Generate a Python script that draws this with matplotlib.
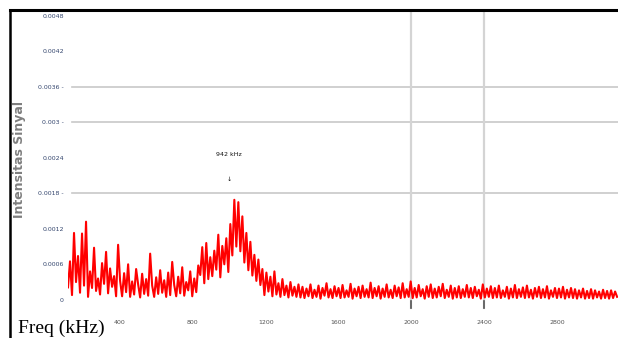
import numpy as np
import matplotlib.pyplot as plt
from matplotlib.lines import Line2D

# frequency grid of the spectrum (kHz)
freq_start = 115
freq_step = 11

# signal intensity, in units of 1e-4
intensity_e4 = [
    # 115 - 400 kHz
    2.1, 6.5, 0.8, 11.3, 3.0, 7.4, 1.2, 11.2, 2.4, 13.2, 0.5, 4.8, 2.0, 8.8, 1.5, 3.6, 0.9, 6.2, 2.7, 8.1,
    1.1, 5.3, 2.2, 4.0, 0.6, 9.3,
    # 400 - 840 kHz
    3.2, 0.6, 4.5, 1.3, 6.0, 0.5, 3.1, 0.9, 5.2, 2.6, 0.4, 4.4, 1.0, 3.5, 0.7, 7.8, 2.4, 0.5, 3.8, 1.0,
    5.0, 1.2, 3.3, 0.5, 4.6, 0.8, 6.4, 2.5, 0.6, 3.9, 1.1, 5.5, 0.7, 3.0, 1.6, 4.8, 0.6, 3.6, 1.3, 5.8,
    # hump around 1000 kHz
    4.2, 8.9, 2.8, 9.6, 3.5, 7.2, 4.0, 8.3, 5.1, 11.0, 3.8, 9.1, 6.0, 10.4, 4.7, 12.8, 7.5, 16.9, 9.0, 16.5,
    8.2, 14.1, 6.3, 11.3, 5.0, 9.8, 4.1, 7.6, 3.2, 6.8, 2.5,
    # decay
    5.2, 0.8, 4.6, 1.4, 3.9, 0.6, 4.8, 0.9, 2.8, 0.5, 3.5, 0.8, 2.4, 0.4, 3.0, 0.7, 2.2, 0.5, 2.6,
    # flat noise floor
    0.4, 2.2, 0.3, 1.9, 0.6, 2.6, 0.3, 1.7, 0.5, 2.4, 0.2, 2.0, 0.7, 2.8, 0.4, 1.8, 0.3, 2.3, 0.6, 2.0,
    0.3, 2.5, 0.4, 1.6, 0.5, 2.7, 0.2, 1.9, 0.6, 2.2, 0.3, 2.4, 0.5, 1.8, 0.4, 2.9, 0.3, 2.0, 0.6, 2.3,
    0.2, 1.9, 0.5, 2.6, 0.4, 1.7, 0.3, 2.4, 0.6, 2.1, 0.3, 2.8, 0.4, 1.8, 0.5, 3.1, 0.3, 2.0, 0.4, 2.5,
    0.6, 1.8, 0.2, 2.3, 0.5, 2.6, 0.3, 1.9, 0.4, 2.2, 0.6, 2.7, 0.3, 1.7, 0.5, 2.4, 0.2, 2.0, 0.4, 2.3,
    0.3, 1.8, 0.5, 2.5, 0.4, 2.0, 0.3, 2.2, 0.6, 1.7, 0.2, 2.6, 0.4, 1.9, 0.5, 2.3, 0.3, 2.0, 0.4, 2.4,
    0.3, 1.6, 0.5, 2.2, 0.2, 1.9, 0.4, 2.5, 0.3, 1.8, 0.5, 2.1, 0.3, 2.4, 0.4, 1.7, 0.2, 2.0, 0.5, 2.2,
    0.3, 1.8, 0.4, 2.3, 0.2, 1.6, 0.5, 2.0, 0.3, 1.9, 0.4, 2.2, 0.2, 1.7, 0.4, 2.0, 0.3, 1.8, 0.2, 1.6,
    0.4, 1.9, 0.2, 1.5, 0.3, 1.8, 0.2, 1.6, 0.4, 1.4, 0.2, 1.7, 0.3, 1.5, 0.2, 1.6, 0.3, 1.4, 0.5,
]

y_ticks = [0, 0.0006, 0.0012, 0.0018, 0.0024, 0.003, 0.0036, 0.0042, 0.0048]
y_ticklabels = ['0', '0.0006', '0.0012', '0.0018 -', '0.0024', '0.003 -', '0.0036 -', '0.0042', '0.0048']
x_ticks = [400, 800, 1200, 1600, 2000, 2400, 2800]
y_grid = [0.0018, 0.003, 0.0036]
x_grid = [2000, 2400]

peak_label = '942 kHz'
peak_freq = 995

freq = freq_start + freq_step * np.arange(len(intensity_e4))
intensity = np.array(intensity_e4) * 1e-4

fig = plt.figure(figsize=(6.18, 3.38), dpi=100)
ax = fig.add_axes([68 / 618, 37 / 338, 550 / 618, 290 / 338])

for g in y_grid:
    ax.axhline(g, xmin=0.007, xmax=1, color='#c8c8c8', lw=1.2, zorder=0)
for g in x_grid:
    ax.axvline(g, ymin=-0.025, ymax=1, color='#d4d4d4', lw=1.6, zorder=0, clip_on=False)
    ax.axvline(g, ymin=-0.025, ymax=0.0, color='#555555', lw=1.2, zorder=0, clip_on=False)

ax.plot(freq, intensity, color='#ff0000', lw=1.5)

ax.text(peak_freq + 5, 0.00245, peak_label, fontsize=4.5, ha='center', va='center', color='#111111')
ax.text(peak_freq + 5, 0.00203, '\u2193', fontsize=4.5, ha='center', va='center', color='#111111')

ax.set_xlim(115, 3134)
ax.set_ylim(-0.00002, 0.00488)
ax.set_yticks(y_ticks)
ax.set_yticklabels(y_ticklabels)
ax.set_xticks(x_ticks)
ax.set_xticklabels([str(v) for v in x_ticks])
ax.tick_params(axis='y', length=0, pad=3, labelsize=4.5, labelcolor='#34466e')
ax.tick_params(axis='x', length=0, pad=14, labelsize=4.5, labelcolor='#555555')
for s in ax.spines.values():
    s.set_visible(False)

fig.text(20 / 618, 1 - 160 / 338, 'Intensitas Sinyal', rotation=90, ha='center', va='center',
         fontsize=9, fontweight='bold', color='#7f7f7f')
fig.text(18 / 618, 5 / 338, 'Freq (kHz)', family='Liberation Serif', fontsize=14,
         ha='left', va='baseline', color='black')

# outer frame (top and left edges)
fig.add_artist(Line2D([10 / 618, 1], [1 - 10 / 338, 1 - 10 / 338], color='black', lw=2.2))
fig.add_artist(Line2D([10 / 618, 10 / 618], [0, 1 - 10 / 338], color='black', lw=1.8))

fig.savefig('out.png', dpi=100)
